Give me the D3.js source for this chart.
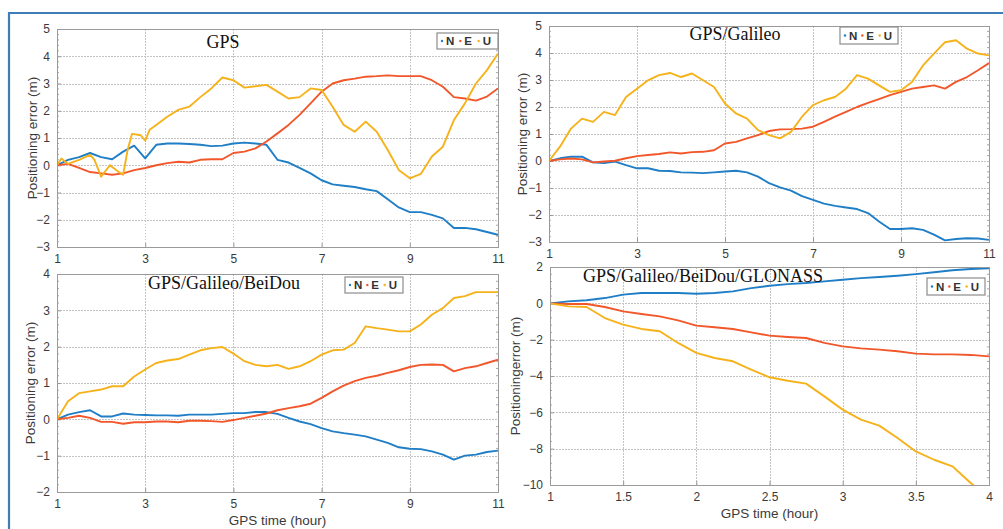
<!DOCTYPE html>
<html lang="en">
<head>
	<meta charset="utf-8">
	<title>Positioning error</title>
	<script src="https://d3js.org/d3.v7.min.js"></script>
	<style type="text/css">
		body {
			margin: 0;
			background: #fff;
		}

		svg {
			display: block;
		}

		.tick-label {
			font-family: "Liberation Sans", Arial, sans-serif;
			font-size: 12px;
			fill: #3a3a3a;
		}

		.axis-title {
			font-family: "Liberation Sans", Arial, sans-serif;
			font-size: 13.5px;
			fill: #3a3a3a;
		}

		.panel-title {
			font-family: "Liberation Serif", "Times New Roman", serif;
			font-size: 18px;
			fill: #111;
		}

		.grid line {
			stroke: #c4c4c4;
			stroke-width: 1;
			stroke-dasharray: 1.5, 1.5;
			shape-rendering: crispEdges;
		}

		.frame {
			fill: none;
			stroke: #9a9a9a;
			stroke-width: 1;
			shape-rendering: crispEdges;
		}

		.series {
			fill: none;
			stroke-width: 1.9;
			stroke-linejoin: round;
		}

		.legend rect {
			fill: #fff;
			stroke: #8c8c8c;
			stroke-width: 1.2;
		}

		.legend text {
			font-family: "Liberation Sans", Arial, sans-serif;
			font-size: 11.5px;
			font-weight: bold;
			fill: #333;
		}
	</style>
</head>
<body>

	<div id="vis"></div>

	<script type="text/javascript">

		/* Data */
		/* ==== */

		var seriesNames = ['N', 'E', 'U'];
		var seriesColors = ['#1f7ec6', '#f2572b', '#f6b21a'];

		// quarter-hour steps for the first three panels
		var hoursLong = [1, 1.25, 1.5, 1.75, 2, 2.25, 2.5, 2.75, 3, 3.25, 3.5, 3.75, 4, 4.25, 4.5, 4.75, 5,
			5.25, 5.5, 5.75, 6, 6.25, 6.5, 6.75, 7, 7.25, 7.5, 7.75, 8, 8.25, 8.5, 8.75, 9,
			9.25, 9.5, 9.75, 10, 10.25, 10.5, 10.75, 11];

		// GPS up-component has a few extra readings around the jumps
		var hoursGpsU = [1, 1.1, 1.25, 1.5, 1.75, 1.85, 2, 2.2, 2.4, 2.5, 2.6, 2.7, 2.9, 3, 3.1, 3.25, 3.5,
			3.75, 4, 4.25, 4.5, 4.75, 5, 5.25, 5.5, 5.75, 6, 6.25, 6.5, 6.75, 7, 7.25, 7.5, 7.75, 8,
			8.25, 8.5, 8.75, 9, 9.25, 9.5, 9.75, 10, 10.25, 10.5, 10.75, 11];

		var hoursShort = [1, 1.125, 1.25, 1.375, 1.5, 1.625, 1.75, 1.875, 2, 2.125, 2.25, 2.375, 2.5,
			2.625, 2.75, 2.875, 3, 3.125, 3.25, 3.375, 3.5, 3.625, 3.75, 3.875, 4];

		// GPS
		var gpsN = [0, 0.2, 0.3, 0.45, 0.3, 0.22, 0.5, 0.72, 0.25, 0.75, 0.8, 0.8, 0.78, 0.75, 0.7, 0.72, 0.8,
			0.83, 0.8, 0.75, 0.2, 0.1, -0.1, -0.3, -0.55, -0.7, -0.75, -0.8, -0.88, -0.95, -1.25, -1.55, -1.72,
			-1.72, -1.82, -1.95, -2.3, -2.3, -2.35, -2.45, -2.55];
		var gpsE = [0, 0.05, -0.1, -0.25, -0.3, -0.35, -0.3, -0.18, -0.1, 0.0, 0.08, 0.13, 0.1, 0.2, 0.22, 0.22, 0.45,
			0.5, 0.62, 0.87, 1.17, 1.48, 1.85, 2.27, 2.7, 3.0, 3.12, 3.18, 3.25, 3.27, 3.3, 3.27, 3.27,
			3.27, 3.12, 2.88, 2.5, 2.45, 2.37, 2.52, 2.82];
		var gpsU = [0, 0.25, 0.05, 0.2, 0.38, 0.2, -0.42, 0.0, -0.25, -0.35, 0.55, 1.15, 1.1, 0.9, 1.3, 1.48, 1.78,
			2.03, 2.15, 2.5, 2.82, 3.22, 3.12, 2.85, 2.9, 2.95, 2.7, 2.45, 2.5, 2.82, 2.76, 2.15, 1.48, 1.23, 1.6,
			1.23, 0.56, -0.17, -0.48, -0.32, 0.32, 0.68, 1.66, 2.27, 3.0, 3.49, 4.1];

		// GPS/Galileo
		var gpsGalN = [0, 0.1, 0.16, 0.16, -0.05, -0.08, -0.02, -0.15, -0.27, -0.27, -0.36, -0.37, -0.42, -0.43,
			-0.45, -0.42, -0.39, -0.36, -0.42, -0.58, -0.82, -0.98, -1.1, -1.3, -1.44, -1.58, -1.66, -1.72,
			-1.78, -1.93, -2.24, -2.52, -2.52, -2.49, -2.55, -2.73, -2.94, -2.89, -2.86, -2.87, -2.92];
		var gpsGalE = [0, 0.06, 0.09, 0.06, -0.05, -0.02, 0.01, 0.1, 0.18, 0.22, 0.26, 0.32, 0.28, 0.33, 0.34,
			0.4, 0.65, 0.71, 0.84, 0.96, 1.11, 1.17, 1.18, 1.2, 1.27, 1.45, 1.64, 1.82, 2.0, 2.15, 2.29, 2.44,
			2.56, 2.68, 2.74, 2.8, 2.68, 2.93, 3.11, 3.36, 3.63];
		var gpsGalU = [0, 0.53, 1.2, 1.57, 1.45, 1.82, 1.7, 2.37, 2.68, 2.99, 3.18, 3.26, 3.11, 3.24, 2.99, 2.74,
			2.13, 1.76, 1.57, 1.14, 0.96, 0.84, 1.08, 1.64, 2.07, 2.25, 2.37, 2.68, 3.18, 3.05, 2.8, 2.56, 2.62,
			2.93, 3.54, 3.98, 4.4, 4.47, 4.16, 3.98, 3.91];

		// GPS/Galileo/BeiDou
		var gpsGalBdsN = [0, 0.13, 0.2, 0.25, 0.08, 0.08, 0.16, 0.13, 0.12, 0.11, 0.11, 0.1, 0.13, 0.13, 0.13,
			0.15, 0.17, 0.17, 0.2, 0.2, 0.15, 0.04, -0.06, -0.13, -0.24, -0.33, -0.38, -0.42, -0.47, -0.56,
			-0.65, -0.77, -0.81, -0.82, -0.88, -0.97, -1.11, -1.0, -0.97, -0.9, -0.86];
		var gpsGalBdsE = [0, 0.04, 0.1, 0.04, -0.07, -0.07, -0.12, -0.08, -0.08, -0.06, -0.06, -0.08, -0.04,
			-0.04, -0.05, -0.07, -0.02, 0.04, 0.1, 0.16, 0.25, 0.31, 0.36, 0.43, 0.59, 0.77, 0.93, 1.05, 1.14,
			1.2, 1.28, 1.35, 1.44, 1.5, 1.51, 1.5, 1.32, 1.41, 1.46, 1.55, 1.64];
		var gpsGalBdsU = [0, 0.5, 0.72, 0.77, 0.82, 0.91, 0.91, 1.18, 1.37, 1.55, 1.62, 1.66, 1.78, 1.9, 1.96,
			1.99, 1.81, 1.6, 1.5, 1.46, 1.5, 1.39, 1.46, 1.6, 1.78, 1.9, 1.92, 2.1, 2.56, 2.51, 2.47, 2.42,
			2.42, 2.61, 2.88, 3.06, 3.34, 3.39, 3.5, 3.5, 3.5];

		// GPS/Galileo/BeiDou/GLONASS
		var allN = [0, 0.11, 0.17, 0.29, 0.48, 0.57, 0.57, 0.57, 0.53, 0.57, 0.66, 0.84, 0.97, 1.06, 1.12, 1.21,
			1.3, 1.39, 1.45, 1.52, 1.61, 1.71, 1.82, 1.89, 1.93];
		var allE = [0, -0.04, -0.04, -0.2, -0.44, -0.59, -0.72, -0.94, -1.23, -1.32, -1.41, -1.6, -1.78, -1.85,
			-1.91, -2.18, -2.37, -2.48, -2.55, -2.64, -2.77, -2.81, -2.81, -2.84, -2.92];
		var allU = [0, -0.17, -0.2, -0.81, -1.17, -1.41, -1.54, -2.18, -2.73, -3.01, -3.19, -3.65, -4.07, -4.26,
			-4.42, -5.12, -5.85, -6.4, -6.73, -7.41, -8.15, -8.61, -8.97, -9.89, -10.7];

		// Tick values
		var xTicksLong = [1, 3, 5, 7, 9, 11];
		var xTicksShort = [1, 1.5, 2, 2.5, 3, 3.5, 4];
		var yTicksGps = [-3, -2, -1, 0, 1, 2, 3, 4, 5];
		var yTicksBds = [-2, -1, 0, 1, 2, 3, 4];
		var yTicksAll = [-10, -8, -6, -4, -2, 0, 2];


		/* Panels */
		/* ====== */

		var panels = [
			{
				title: 'GPS', box: [57, 498, 29, 247], xDomain: [1, 11], yDomain: [-3, 5],
				xTicks: xTicksLong, yTicks: yTicksGps, titlePos: [223, 48], legend: [437, 33, 61, 16],
				yLabel: 'Positioning error (m)', yLabelX: 37, xLabel: null,
				series: [[hoursLong, gpsN], [hoursLong, gpsE], [hoursGpsU, gpsU]]
			},
			{
				title: 'GPS/Galileo', box: [549, 989, 26, 242], xDomain: [1, 11], yDomain: [-3, 5],
				xTicks: xTicksLong, yTicks: yTicksGps, titlePos: [735, 40], legend: [840, 27, 58, 17],
				yLabel: 'Positioning error (m)', yLabelX: 527, xLabel: null,
				series: [[hoursLong, gpsGalN], [hoursLong, gpsGalE], [hoursLong, gpsGalU]]
			},
			{
				title: 'GPS/Galileo/BeiDou', box: [57, 498, 274, 492], xDomain: [1, 11], yDomain: [-2, 4],
				xTicks: xTicksLong, yTicks: yTicksBds, titlePos: [224, 289], legend: [345, 277, 58, 16],
				yLabel: 'Positioning error (m)', yLabelX: 35, xLabel: 'GPS time (hour)', xLabelY: 525,
				series: [[hoursLong, gpsGalBdsN], [hoursLong, gpsGalBdsE], [hoursLong, gpsGalBdsU]]
			},
			{
				title: 'GPS/Galileo/BeiDou/GLONASS', box: [550, 989, 267, 485], xDomain: [1, 4], yDomain: [-10, 2],
				xTicks: xTicksShort, yTicks: yTicksAll, titlePos: [703, 282], legend: [927, 278, 58, 17],
				yLabel: 'Positioningerror (m)', yLabelX: 520, xLabel: 'GPS time (hour)', xLabelY: 518,
				series: [[hoursShort, allN], [hoursShort, allE], [hoursShort, allU]]
			}
		];


		/* SVG */
		/* === */

		var svg = d3.select('#vis')
			.append('svg')
			.attr('width', 1003)
			.attr('height', 529);

		svg.append('rect')
			.attr('width', 1003)
			.attr('height', 529)
			.attr('fill', '#fff');

		// blue figure frame (top and left edges)
		svg.append('path')
			.attr('d', 'M9,529 L9,13 L1003,13')
			.attr('fill', 'none')
			.attr('stroke', '#3f7db9')
			.attr('stroke-width', 2.2);


		function drawPanel(p, idx) {

			var x0 = p.box[0], x1 = p.box[1], y0 = p.box[2], y1 = p.box[3];

			var xScale = d3.scaleLinear().domain(p.xDomain).range([x0, x1]);
			var yScale = d3.scaleLinear().domain(p.yDomain).range([y1, y0]);

			var g = svg.append('g').attr('class', 'panel');

			g.append('rect')
				.attr('x', x0).attr('y', y0)
				.attr('width', x1 - x0).attr('height', y1 - y0)
				.attr('fill', '#fff');

			/* Grid */

			var grid = g.append('g').attr('class', 'grid');

			grid.selectAll('.gx')
				.data(p.xTicks.slice(1, -1)).enter()
				.append('line')
				.attr('x1', function (d) { return Math.round(xScale(d)) + 0.5; })
				.attr('x2', function (d) { return Math.round(xScale(d)) + 0.5; })
				.attr('y1', y0).attr('y2', y1);

			grid.selectAll('.gy')
				.data(p.yTicks.slice(1, -1)).enter()
				.append('line')
				.attr('y1', function (d) { return Math.round(yScale(d)) + 0.5; })
				.attr('y2', function (d) { return Math.round(yScale(d)) + 0.5; })
				.attr('x1', x0).attr('x2', x1);

			/* Axes (ticks drawn inside, MATLAB style) */

			var axisLeft = d3.axisLeft(yScale).tickValues(p.yTicks).tickSize(-4).tickPadding(7)
				.tickFormat(d3.format('d'));
			var axisBottom = d3.axisBottom(xScale).tickValues(p.xTicks).tickSize(-4).tickPadding(7)
				.tickFormat(function (d) { return String(d); });

			var ay = g.append('g').attr('transform', 'translate(' + x0 + ',0)').call(axisLeft);
			var ax = g.append('g').attr('transform', 'translate(0,' + y1 + ')').call(axisBottom);

			[ax, ay].forEach(function (a) {
				a.select('.domain').remove();
				a.selectAll('line').attr('stroke', '#9a9a9a');
				a.selectAll('text').attr('class', 'tick-label').attr('fill', null);
			});

			// minor ticks on the left and right edges
			var minor = [];
			for (var k = 0; k < p.yTicks.length - 1; k++) {
				var step = (p.yTicks[k + 1] - p.yTicks[k]) / 5;
				for (var m = 1; m < 5; m++) minor.push(p.yTicks[k] + step * m);
			}
			g.selectAll('.minor-l')
				.data(minor).enter()
				.append('line')
				.attr('x1', x0).attr('x2', x0 + 2)
				.attr('y1', function (d) { return yScale(d); })
				.attr('y2', function (d) { return yScale(d); })
				.attr('stroke', '#a8a8a8');
			g.selectAll('.minor-r')
				.data(minor).enter()
				.append('line')
				.attr('x1', x1).attr('x2', x1 - 2)
				.attr('y1', function (d) { return yScale(d); })
				.attr('y2', function (d) { return yScale(d); })
				.attr('stroke', '#a8a8a8');

			/* Lines */

			var clipId = 'clip' + idx;
			g.append('clipPath').attr('id', clipId)
				.append('rect')
				.attr('x', x0).attr('y', y0 - 1)
				.attr('width', x1 - x0).attr('height', y1 - y0 + 1);

			var line = d3.line()
				.x(function (d) { return xScale(d[0]); })
				.y(function (d) { return yScale(d[1]); });

			var lines = g.append('g').attr('clip-path', 'url(#' + clipId + ')');

			p.series.forEach(function (s, i) {
				var pts = s[0].map(function (h, j) { return [h, s[1][j]]; });
				lines.append('path')
					.datum(pts)
					.attr('class', 'series')
					.attr('stroke', seriesColors[i])
					.attr('d', line);
			});

			g.append('rect')
				.attr('class', 'frame')
				.attr('x', x0 + 0.5).attr('y', y0 + 0.5)
				.attr('width', x1 - x0).attr('height', y1 - y0);

			/* Titles */

			g.append('text')
				.attr('class', 'panel-title')
				.attr('x', p.titlePos[0]).attr('y', p.titlePos[1])
				.attr('text-anchor', 'middle')
				.text(p.title);

			var cy = (y0 + y1) / 2;
			g.append('text')
				.attr('class', 'axis-title')
				.attr('transform', 'translate(' + p.yLabelX + ',' + cy + ') rotate(-90)')
				.attr('text-anchor', 'middle')
				.text(p.yLabel);

			if (p.xLabel) {
				g.append('text')
					.attr('class', 'axis-title')
					.attr('x', (x0 + x1) / 2).attr('y', p.xLabelY)
					.attr('text-anchor', 'middle')
					.text(p.xLabel);
			}

			/* Legend */

			var lg = g.append('g').attr('class', 'legend');
			var L = p.legend;
			lg.append('rect').attr('x', L[0]).attr('y', L[1]).attr('width', L[2]).attr('height', L[3]);

			var slot = (L[2] - 6) / 3;
			seriesNames.forEach(function (name, i) {
				var sx = L[0] + 5 + i * slot;
				lg.append('circle')
					.attr('cx', sx).attr('cy', L[1] + L[3] / 2)
					.attr('r', 1.2)
					.attr('fill', seriesColors[i]);
				lg.append('text')
					.attr('x', sx + 4).attr('y', L[1] + L[3] / 2 + 4)
					.text(name);
			});
		}

		panels.forEach(drawPanel);

	</script>

</body>
</html>
